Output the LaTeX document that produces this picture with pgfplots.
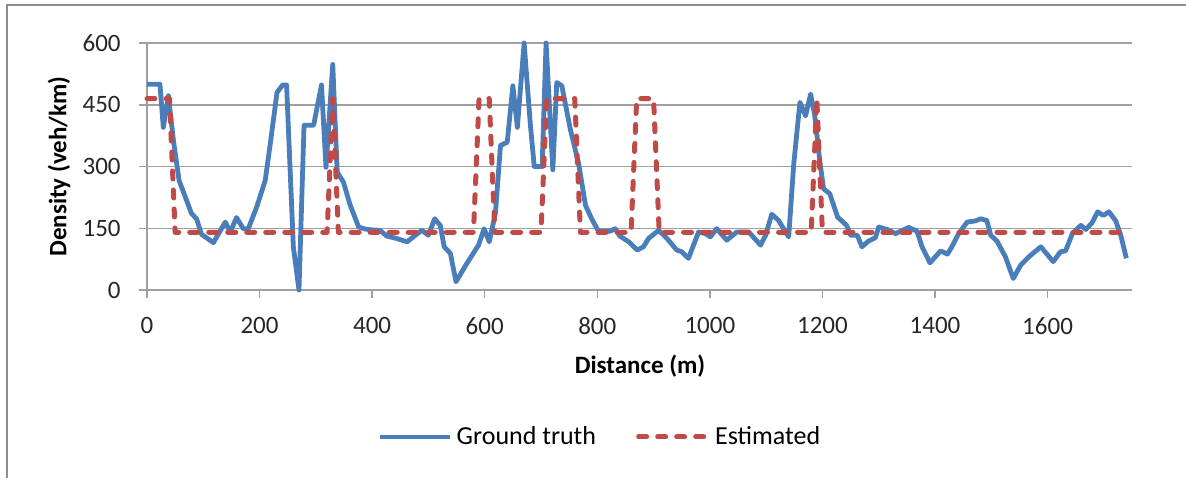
\documentclass[border=0pt]{standalone}
\usepackage{fontspec}
\setmainfont{Carlito}
\usepackage{pgfplots}
\pgfplotsset{compat=1.18}
\definecolor{gtblue}{HTML}{4A7EBB}
\definecolor{estred}{HTML}{BE4B48}
\definecolor{gridgrey}{HTML}{A0A0A0}
\definecolor{framegrey}{HTML}{8C8C8C}
\begin{document}
\begin{tikzpicture}
% page = 1186x477 px at 0.5pt per px, axis box origin at px (147,290)
\path[use as bounding box] (-73.5pt,-93.5pt) rectangle (519.5pt,145pt);
\draw[framegrey,line width=1pt] (-70pt,-95pt) -- (-70pt,142.5pt) -- (522pt,142.5pt);
\begin{axis}[
  scale only axis,width=492.5pt,height=123.5pt,
  xmin=0,xmax=1750,ymin=0,ymax=600,
  xtick={0,200,...,1600},ytick={0,150,300,450,600},
  font=\fontsize{12.5}{15}\selectfont,
  /pgf/number format/assume math mode=true,
  /pgf/number format/1000 sep={},
  axis lines=left,axis line style={gridgrey,line width=0.75pt,-},
  tick align=outside,major tick length=4pt,
  tick style={gridgrey,line width=0.75pt},
  ymajorgrids,grid style={gridgrey,line width=0.75pt},
  xticklabel style={black!85,anchor=north,inner sep=0pt,yshift=-9.5pt},
  yticklabel style={black!85,anchor=east,inner sep=0pt,xshift=-9pt},
  xlabel={\bfseries Distance (m)},ylabel={\bfseries Density (veh/km)},
  xlabel style={at={(axis description cs:0.5005,-0.3077)},anchor=center},
  ylabel style={at={(axis description cs:-0.0893,0.5)},anchor=center},
  legend columns=2,
  legend style={at={(axis description cs:0.461,-0.595)},anchor=center,
    draw=none,fill=none,font=\fontsize{13}{15}\selectfont,
    /tikz/every even column/.append style={column sep=18pt}},
  legend image code/.code={\draw[#1] (0pt,0pt) -- (35pt,0pt);},
  clip=false]
\addplot[gtblue,line width=2.4pt,line join=round] coordinates {
(0,500) (23,500) (29,395) (38,472) (47,363) (57,266) (68,226) (79,186) (88,173) (97,135)
(118,115) (139,165) (148,141) (159,176) (171,149) (180,149) (195,202) (210,266) (219,355) (231,480)
(241,498) (248,498) (260,105) (270,0) (279,400) (296,400) (310,498) (318,298) (330,548) (338,286)
(349,262) (361,206) (376,153) (388,148) (400,146) (414,145) (426,131) (444,125) (462,117) (473,129)
(488,145) (500,133) (511,173) (521,157) (528,105) (539,89) (549,20) (568,64) (589,109) (599,149)
(608,117) (619,186) (628,351) (640,359) (650,496) (658,395) (670,600) (681,403) (688,300) (702,300)
(709,600) (721,292) (728,504) (737,496) (752,391) (767,306) (779,206) (790,173) (802,143) (823,143)
(832,149) (840,131) (856,117) (871,97) (882,105) (891,125) (909,145) (924,125) (941,97) (950,93)
(962,77) (980,141) (992,137) (1001,129) (1012,149) (1030,121) (1048,141) (1069,141) (1090,109) (1099,133)
(1110,184) (1122,169) (1140,129) (1149,306) (1160,456) (1170,423) (1179,476) (1186,427) (1196,306) (1202,246)
(1213,234) (1227,177) (1243,157) (1250,133) (1262,133) (1270,105) (1282,119) (1294,127) (1300,153) (1315,147)
(1330,137) (1342,145) (1353,152) (1368,143) (1377,105) (1391,66) (1410,95) (1422,87) (1430,105) (1442,137)
(1457,165) (1472,168) (1481,173) (1492,169) (1499,133) (1510,119) (1525,81) (1539,28) (1552,60) (1567,81)
(1588,105) (1610,69) (1623,93) (1632,95) (1644,137) (1659,157) (1668,147) (1679,163) (1689,190) (1699,181)
(1709,190) (1721,168) (1730,133) (1740,77)};
\addlegendentry{Ground truth}
\addplot[estred,line width=2.5pt,line cap=round,line join=round,dash pattern=on 4pt off 5.5pt] coordinates {
(0,465) (40,465) (50,140) (320,140) (330,465) (340,140) (580,140) (590,465) (608,465) (618,140)
(700,140) (710,465) (760,465) (770,140) (860,140) (870,465) (900,465) (910,140) (1180,140) (1190,465)
(1200,140) (1740,140)};
\addlegendentry{Estimated}
\end{axis}
\end{tikzpicture}
\end{document}
